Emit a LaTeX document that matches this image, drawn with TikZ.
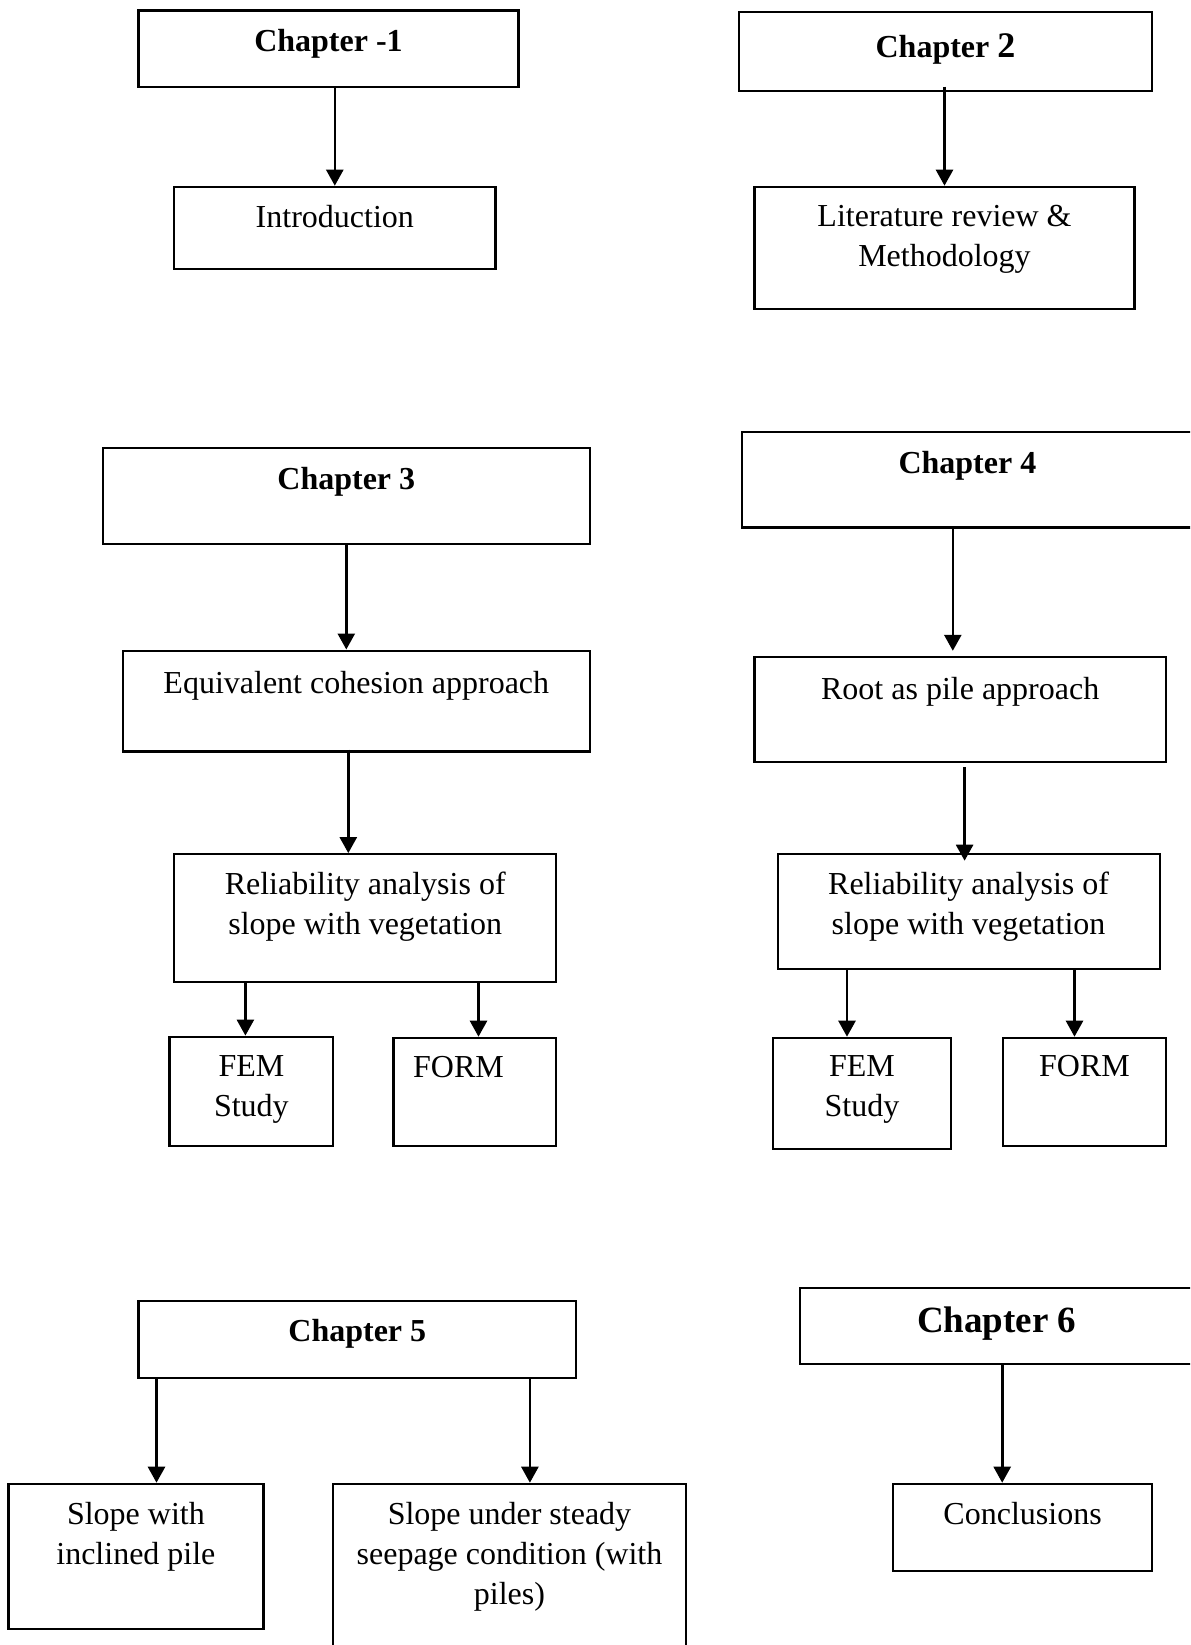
\documentclass[tikz,border=0pt]{standalone}
\usepackage{fontspec}
\setmainfont{Liberation Serif}
\usetikzlibrary{positioning,arrows.meta}

\begin{document}
\begin{tikzpicture}[
    x=0.5pt, y=-0.5pt,
    box/.style={rectangle, draw, line width=1.1pt, inner sep=0pt},
    txt/.style={align=center, inner sep=0pt, font=\fontsize{16}{20}\selectfont},
    head/.style={align=center, inner sep=0pt, font=\fontsize{16}{20}\selectfont\bfseries},
    arrow/.style={-{Triangle[width=8.5pt,length=8pt]}, line width=1.3pt}
  ]
  \clip (0,0) rectangle (1190,1645);

  % left column
  \node[box, minimum width=190pt, minimum height=38.3pt] (ch1) at (328.5,48.8) {};
  \node[head, below=9.5pt of ch1.north] (ch1t) {Chapter -1};
  \node[box, minimum width=160.6pt, minimum height=40.9pt] (intro) at (334.8,227.7) {};
  \node[txt, below=9.5pt of intro.north] (introt) {Introduction};

  \node[box, minimum width=243.5pt, minimum height=47.8pt] (ch3) at (346.3,495.9) {};
  \node[head, below=9.8pt of ch3.north] (ch3t) {Chapter 3};
  \node[box, minimum width=233.5pt, minimum height=50.4pt] (equiv) at (356.3,701) {};
  \node[txt, below=10.6pt of equiv.north] (equivt) {Equivalent cohesion approach};
  \node[box, minimum width=191pt, minimum height=64pt] (rel3) at (365.2,918.2) {};
  \node[txt, below=9.3pt of rel3.north] (rel3t) {Reliability analysis of\\slope with vegetation};
  \node[box, minimum width=81.9pt, minimum height=54.7pt] (fem3) at (251.4,1091.4) {};
  \node[txt, below=9.8pt of fem3.north] (fem3t) {FEM\\Study};
  \node[box, minimum width=81.4pt, minimum height=54.1pt] (form3) at (474.9,1091.9) {};
  \node[txt, below=9.6pt of form3.north, xshift=-8.2pt] (form3t) {FORM};

  \node[box, minimum width=218.8pt, minimum height=38.3pt] (ch5) at (357.3,1339.5) {};
  \node[head, below=9.4pt of ch5.north] (ch5t) {Chapter 5};
  \node[box, minimum width=127.5pt, minimum height=72.4pt] (slope) at (135.9,1556.2) {};
  \node[txt, below=9.5pt of slope.north] (slopet) {Slope with\\inclined pile};
  \node[box, minimum width=176.8pt, minimum height=88.1pt] (seep) at (509.5,1571.9) {};
  \node[txt, below=9.5pt of seep.north] (seept) {Slope under steady\\seepage condition (with\\piles)};

  % right column
  \node[box, minimum width=206.5pt, minimum height=39.3pt] (ch2) at (945.5,51.3) {};
  \node[head, below=11.4pt of ch2.north] (ch2t) {Chapter {\fontsize{18}{20}\selectfont 2}};
  \node[box, minimum width=190pt, minimum height=60.9pt] (lit) at (944.5,247.7) {};
  \node[txt, below=9.4pt of lit.north] (litt) {Literature review \&\\Methodology};

  \node[box, minimum width=225.7pt, minimum height=47.7pt] (ch4) at (967.4,479.7) {};
  \node[head, below=9.8pt of ch4.north] (ch4t) {Chapter 4};
  \node[box, minimum width=205.7pt, minimum height=52.5pt] (root) at (960.2,709.4) {};
  \node[txt, below=10.5pt of root.north] (roott) {Root as pile approach};
  \node[box, minimum width=191pt, minimum height=57.2pt] (rel4) at (968.6,911.4) {};
  \node[txt, below=9.3pt of rel4.north] (rel4t) {Reliability analysis of\\slope with vegetation};
  \node[box, minimum width=88.7pt, minimum height=55.7pt] (fem4) at (862,1093.5) {};
  \node[txt, below=9.3pt of fem4.north] (fem4t) {FEM\\Study};
  \node[box, minimum width=81.4pt, minimum height=54.1pt] (form4) at (1084.5,1091.9) {};
  \node[txt, below=9.3pt of form4.north] (form4t) {FORM};

  \node[box, minimum width=197.2pt, minimum height=38.3pt] (ch6) at (996.8,1325.9) {};
  \node[head, below=10.2pt of ch6.north, font=\fontsize{18.5}{22}\selectfont\bfseries] (ch6t) {Chapter 6};
  \node[box, minimum width=129.6pt, minimum height=43.6pt] (concl) at (1022.6,1527.4) {};
  \node[txt, below=9.5pt of concl.north] (conclt) {Conclusions};

  % arrows
  \draw[arrow] (intro.north |- ch1.south) -- (intro.north);
  \draw[arrow] ([yshift=2.5pt]lit.north |- ch2.south) -- (lit.north);
  \draw[arrow] (ch3.south) -- (ch3.south |- equiv.north);
  \draw[arrow] ([xshift=-4pt,yshift=1.5pt]equiv.south) -- ([xshift=-4pt]equiv.south |- rel3.north);
  \draw[arrow] ([xshift=-3pt]fem3.north |- rel3.south) -- ([xshift=-3pt]fem3.north);
  \draw[arrow] ([xshift=1.8pt]form3.north |- rel3.south) -- ([xshift=1.8pt]form3.north);
  \draw[arrow] ([xshift=-3.7pt]root.north |- ch4.south) -- ([xshift=-3.7pt,yshift=2.5pt]root.north);
  \draw[arrow] ([xshift=-2pt,yshift=-2pt]rel4.north |- root.south) -- ([xshift=-2pt,yshift=-3.8pt]rel4.north);
  \draw[arrow] ([xshift=-7.5pt]fem4.north |- rel4.south) -- ([xshift=-7.5pt]fem4.north);
  \draw[arrow] ([xshift=-5pt]form4.north |- rel4.south) -- ([xshift=-5pt]form4.north);
  \draw[arrow] ([xshift=10.3pt]slope.north |- ch5.south) -- ([xshift=10.3pt]slope.north);
  \draw[arrow] ([xshift=10.2pt]seep.north |- ch5.south) -- ([xshift=10.2pt]seep.north);
  \draw[arrow] ([xshift=2.7pt]ch6.south) -- ([xshift=2.7pt]ch6.south |- concl.north);
\end{tikzpicture}
\end{document}
